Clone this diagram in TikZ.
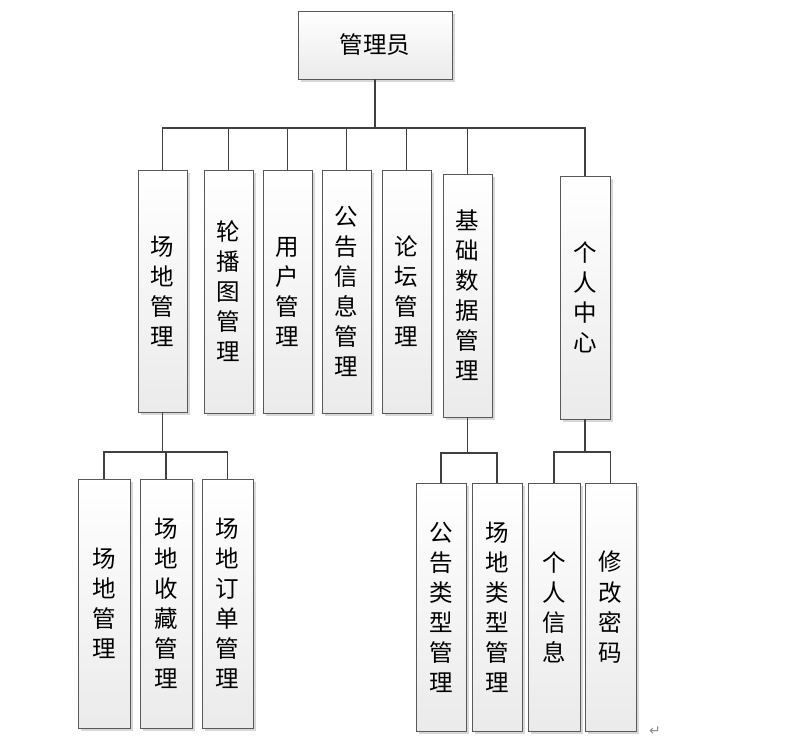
\documentclass[tikz,border=0pt]{standalone}
\usepackage{fontspec}
\newfontfamily\cjk{Noto Sans CJK SC}
\newfontfamily\symfont{DejaVu Sans}
\usepackage{tikz}
\usetikzlibrary{shadows}
\usepackage{xcolor}

\begin{document}
\begin{tikzpicture}[x=1pt,y=-1pt,line cap=rect,
  box/.style={draw=black!65,line width=0.9pt,inner sep=0pt,align=center,
    top color=white,bottom color=black!8,
    drop shadow={shadow xshift=2.5pt,shadow yshift=-2.5pt,fill=black!30,opacity=0.5},
    font=\cjk\fontsize{23.5}{30}\selectfont},
  link/.style={draw=black!75,line width=1.8pt}]
\useasboundingbox (0,0) rectangle (810,744);
% top
\node[box,minimum width=154pt,minimum height=68pt] (admin) at (375,45) {管理员};
% second row
\node[box,minimum width=49pt,minimum height=242pt] (site) at (162.5,291) {场\\地\\管\\理};
\node[box,minimum width=49pt,minimum height=243pt] (banner) at (228.5,291.5) {轮\\播\\图\\管\\理};
\node[box,minimum width=49pt,minimum height=243pt] (user) at (287.5,291.5) {用\\户\\管\\理};
\node[box,minimum width=49pt,minimum height=243pt] (notice) at (346.5,291.5) {公\\告\\信\\息\\管\\理};
\node[box,minimum width=49pt,minimum height=243pt] (forum) at (406.5,291.5) {论\\坛\\管\\理};
\node[box,minimum width=49pt,minimum height=243pt] (basic) at (467.5,295.5) {基\\础\\数\\据\\管\\理};
\node[box,minimum width=50pt,minimum height=243pt] (center) at (585,297.5) {个\\人\\中\\心};
% third row
\node[box,minimum width=52pt,minimum height=249pt] (sitemgr) at (104,603.5) {场\\地\\管\\理};
\node[box,minimum width=52pt,minimum height=249pt] (fav) at (166,603.5) {场\\地\\收\\藏\\管\\理};
\node[box,minimum width=51pt,minimum height=249pt] (order) at (227.5,603.5) {场\\地\\订\\单\\管\\理};
\node[box,minimum width=50pt,minimum height=248pt] (ntype) at (441,607) {公\\告\\类\\型\\管\\理};
\node[box,minimum width=50pt,minimum height=248pt] (stype) at (497,607) {场\\地\\类\\型\\管\\理};
\node[box,minimum width=52pt,minimum height=248pt] (info) at (554,607) {个\\人\\信\\息};
\node[box,minimum width=51pt,minimum height=248pt] (pwd) at (610.5,607) {修\\改\\密\\码};
\node[text=black!45,font=\symfont\fontsize{14}{14}\selectfont] (ret) at (655,731) {↵};
% bars
\coordinate (bar1) at (0,128);
\coordinate (bar2) at (0,452);
\coordinate (bar3) at (0,453);
\foreach \c in {site,banner,user,notice,forum,basic,center}
  \draw[link] (admin.south) |- (\c.north |- bar1) -- (\c.north);
\foreach \c in {sitemgr,fav,order}
  \draw[link] (site.south) |- (\c.north |- bar2) -- (\c.north);
\foreach \c in {ntype,stype}
  \draw[link] (basic.south) |- (\c.north |- bar3) -- (\c.north);
\foreach \c in {info,pwd}
  \draw[link] (center.south) |- (\c.north |- bar2) -- (\c.north);
\end{tikzpicture}
\end{document}
